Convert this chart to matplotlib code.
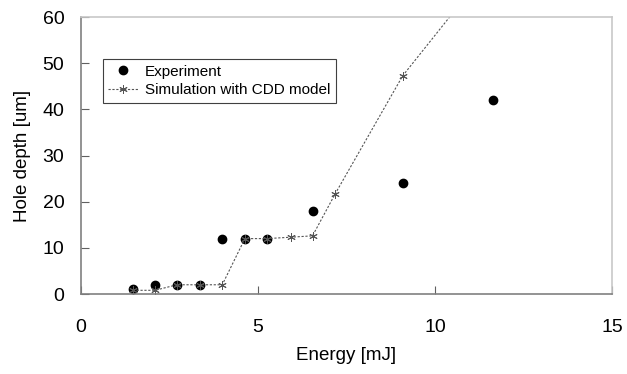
import numpy as np
import matplotlib.pyplot as plt

plt.rcParams["font.family"] = ["Liberation Sans", "DejaVu Sans"]

# measured hole depth vs. pulse energy
energy_exp = [1.46, 2.09, 2.71, 3.37, 3.99, 4.63, 5.25, 6.54, 9.09, 11.63]
depth_exp = [1.0, 2.0, 2.0, 2.0, 12.0, 12.0, 12.0, 18.0, 24.0, 42.0]

# CDD model prediction
energy_sim = [1.46, 2.09, 2.71, 3.37, 3.99, 4.63, 5.25, 5.92, 6.54, 7.18, 9.09, 11.63]
depth_sim = [0.8, 0.8, 2.0, 2.0, 2.0, 12.0, 12.0, 12.3, 12.6, 21.7, 47.3, 71.7]

fig = plt.figure(figsize=(6.27, 3.74), dpi=100)
ax = fig.add_axes([0.1292, 0.2139, 0.8469, 0.7406])

ax.plot(energy_exp, depth_exp, "o", color="black", markersize=6, label="Experiment")
ax.plot(energy_sim, depth_sim, linestyle=(0, (2, 1.5)), linewidth=0.8, color="#555555",
        marker=(6, 2, 0), markersize=6, markeredgewidth=0.7, markeredgecolor="#555555",
        label="Simulation with CDD model")

ax.set_xlim(0, 15)
ax.set_ylim(0, 60)
ax.set_xticks([0, 5, 10, 15])
ax.set_yticks(np.arange(0, 61, 10))

for side in ["left", "bottom"]:
    ax.spines[side].set_color("#808080")
for side in ["top", "right"]:
    ax.spines[side].set_color("#c8c8c8")
for sp in ax.spines.values():
    sp.set_linewidth(1.2)

ax.tick_params(axis="x", direction="in", length=6, color="#606060", labelsize=14, pad=18)
ax.tick_params(axis="y", direction="in", length=6, color="#606060", labelsize=14, pad=12)

ax.set_xlabel("Energy [mJ]", fontsize=13.5, labelpad=8)
ax.set_ylabel("Hole depth [um]", fontsize=13.5, labelpad=8)

leg = ax.legend(loc="upper left", bbox_to_anchor=(0.041, 0.847), fontsize=11,
                frameon=True, fancybox=False, edgecolor="#404040", framealpha=1,
                borderpad=0.35, labelspacing=0.3, handlelength=2.0, handletextpad=0.4,
                borderaxespad=0)
leg.get_frame().set_linewidth(0.8)

fig.savefig("out.png", dpi=100)
